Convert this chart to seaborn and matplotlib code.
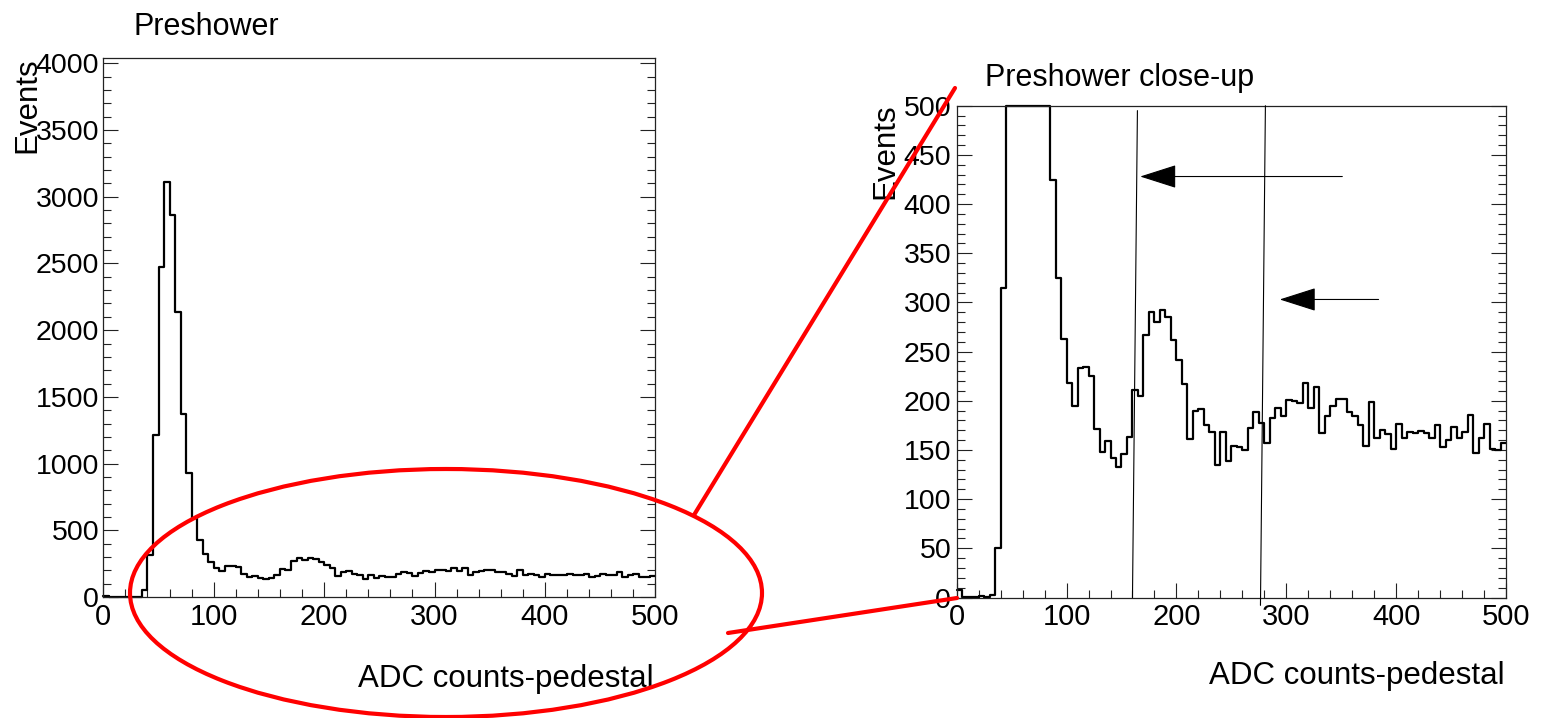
import numpy as np
import pandas as pd
import matplotlib
matplotlib.use("Agg")
import matplotlib.pyplot as plt
import seaborn as sns
from matplotlib.patches import Ellipse
from matplotlib.lines import Line2D
from matplotlib.ticker import MultipleLocator

# ---- histogram contents: 100 bins of 5 ADC counts from 0 to 500 ----
bin_width = 5
adc_low, adc_high = 0, 500
counts = [
    8, 1, 1, 1, 2, 1, 3, 50, 315, 1213,
    2474, 3111, 2861, 2133, 1371, 931, 590, 424, 325, 263,
    218, 195, 233, 234, 225, 171, 148, 159, 142, 133,
    146, 163, 211, 205, 267, 290, 280, 292, 285, 262,
    241, 217, 161, 190, 192, 175, 168, 135, 168, 139,
    154, 153, 150, 172, 189, 177, 157, 182, 193, 185,
    201, 200, 198, 218, 193, 214, 167, 185, 195, 202,
    202, 189, 185, 175, 154, 199, 162, 170, 166, 151,
    176, 162, 168, 167, 169, 167, 162, 175, 153, 160,
    173, 162, 168, 186, 147, 162, 176, 151, 150, 157,
]

full_ymax = 4040
zoom_ymax = 500

# cut markers on the close-up (x_bottom, y_bottom, x_top, y_top)
cut_lines = [(160.0, 0.0, 164.5, 495.0), (276.5, -8.0, 281.0, 500.0)]
# arrows pointing at the cuts (tail -> tip)
arrow_tails = [(351.0, 428.0), (384.0, 303.0)]
arrow_tips = [(167.0, 428.0), (294.0, 303.0)]

n_bins = len(counts)
centers = adc_low + bin_width * (np.arange(n_bins) + 0.5)
counts = np.asarray(counts, dtype=float)
spectrum = pd.DataFrame({"adc": centers, "events": counts,
                         "events_zoom": np.minimum(counts, zoom_ymax)})

sns.set_theme(style="ticks")
plt.rcParams["font.family"] = ["Liberation Sans", "DejaVu Sans"]

W, H = 1541, 718
fig = plt.figure(figsize=(W / 100, H / 100), dpi=100)
fig.patch.set_facecolor("white")


def px_axes(left, top, right, bottom):
    return fig.add_axes([left / W, 1 - bottom / H, (right - left) / W, (bottom - top) / H])


ax1 = px_axes(103.3, 58.0, 655.3, 597.0)
ax2 = px_axes(956.7, 105.7, 1506.0, 597.5)


def style_axes(ax, ymax, ymajor, yminor, ypad):
    ax.set_xlim(adc_low, adc_high)
    ax.set_ylim(0, ymax)
    ax.xaxis.set_major_locator(MultipleLocator(100))
    ax.xaxis.set_minor_locator(MultipleLocator(20))
    ax.yaxis.set_major_locator(MultipleLocator(ymajor))
    ax.yaxis.set_minor_locator(MultipleLocator(yminor))
    ax.tick_params(which="both", direction="in", left=True, right=True,
                   bottom=True, top=False, width=0.8, color="#222222",
                   labelcolor="black")
    ax.tick_params(which="major", length=11)
    ax.tick_params(which="minor", length=5.5)
    ax.tick_params(axis="x", which="major", pad=4, labelsize=21)
    ax.tick_params(axis="y", which="major", pad=ypad, labelsize=20.5)
    for s in ax.spines.values():
        s.set_visible(True)
        s.set_linewidth(0.9)
        s.set_color("#222222")
    ax.set_xlabel("")
    ax.set_ylabel("")
    ax.set_facecolor("white")
    ax.grid(False)


hist_kw = dict(data=spectrum, x="adc", bins=n_bins, binrange=(adc_low, adc_high),
               element="step", fill=False, color="black", linewidth=1.6)

# full-range spectrum
sns.histplot(weights="events", ax=ax1, **hist_kw)
style_axes(ax1, full_ymax, 500, 100, 3)

# close-up: bins above the frame are drawn at the frame top
sns.histplot(weights="events_zoom", ax=ax2, **hist_kw)
style_axes(ax2, zoom_ymax, 50, 10, 4)

for ax in (ax1, ax2):
    for ln in ax.lines:
        ln.set_clip_on(False)

for x0, y0, x1, y1 in cut_lines:
    ax2.plot([x0, x1], [y0, y1], color="black", lw=0.8, clip_on=False, zorder=3)

for tail, tip in zip(arrow_tails, arrow_tips):
    ax2.annotate("", xy=tip, xytext=tail, xycoords="data", textcoords="data",
                 annotation_clip=False,
                 arrowprops=dict(arrowstyle="-|>,head_length=2.35,head_width=0.75",
                                 mutation_scale=10, lw=0.8, color="black",
                                 shrinkA=0, shrinkB=0))

# titles and axis titles
title_kw = dict(fontsize=22, color="black", ha="left", va="baseline")
fig.text(133 / W, 1 - 35 / H, "Preshower", **title_kw)
fig.text(985 / W, 1 - 86 / H, "Preshower close-up", **title_kw)

ylab_kw = dict(fontsize=22.5, color="black", rotation=90, rotation_mode="anchor",
               ha="right", va="baseline")
fig.text(35 / W, 1 - 57 / H, "Events", **ylab_kw)
fig.text(893 / W, 1 - 103 / H, "Events", **ylab_kw)

xlab_kw = dict(fontsize=22.5, color="black", ha="right", va="baseline")
fig.text(654 / W, 1 - 686.7 / H, "ADC counts-pedestal", **xlab_kw)
fig.text(1505 / W, 1 - 683.7 / H, "ADC counts-pedestal", **xlab_kw)

# highlight of the low-amplitude region and its link to the close-up
red = "#ff0000"
fig.add_artist(Ellipse((446 / W, 1 - 593 / H), 632 / W, 248 / H,
                       transform=fig.transFigure, fill=False, edgecolor=red,
                       lw=3, zorder=5))
fig.add_artist(Line2D([694 / W, 955 / W], [1 - 515 / H, 1 - 88 / H],
                      transform=fig.transFigure, color=red, lw=3, zorder=5))
fig.add_artist(Line2D([728 / W, 957 / W], [1 - 633 / H, 1 - 598 / H],
                      transform=fig.transFigure, color=red, lw=3, zorder=5))

fig.savefig("out.png", dpi=100, facecolor="white")
